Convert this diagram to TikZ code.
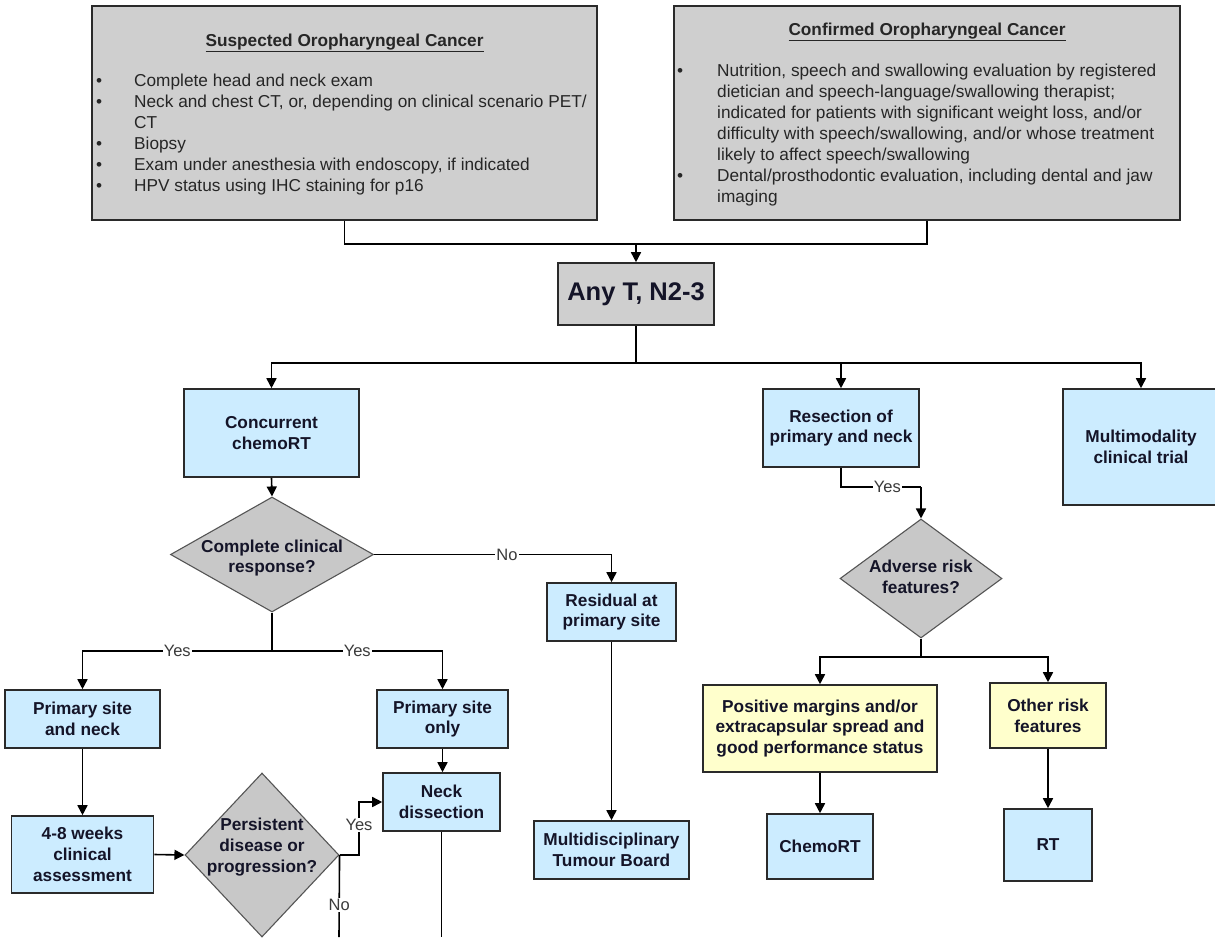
\documentclass[tikz,border=0pt]{standalone}
\usepackage{fontspec}
\setmainfont{Liberation Sans}
\usetikzlibrary{shapes.geometric,arrows.meta}
\definecolor{grayc}{HTML}{CFCFCF}
\definecolor{bluec}{HTML}{CCECFF}
\definecolor{yellowc}{HTML}{FFFFCC}
\definecolor{bordc}{HTML}{2A2A2A}
\definecolor{txtc}{HTML}{141428}
\definecolor{bodyc}{HTML}{262626}
\definecolor{diafill}{HTML}{C8C8C8}
\definecolor{diabord}{HTML}{555555}
\definecolor{labc}{HTML}{3A3A3A}
\tikzset{
  box/.style={draw=bordc, line width=1.6pt, inner sep=0pt, align=center,
    font=\bfseries\fontsize{17.25}{20.7}\selectfont, text=txtc},
  gbox/.style={box, fill=grayc},
  bbox/.style={box, fill=bluec},
  ybox/.style={box, fill=yellowc},
  dia/.style={diamond, draw=diabord, fill=diafill, line width=1.1pt, inner sep=0pt},
  dtext/.style={align=center, inner sep=0pt, text=txtc,
    font=\bfseries\fontsize{17.25}{20.7}\selectfont},
  arr/.style={-{Triangle[length=10pt,width=10pt]}, line width=1.6pt, draw=black},
  ln/.style={line width=1.6pt, draw=black},
  yn/.style={fill=white, inner sep=1.2pt, text=labc,
    font=\fontsize{16.5}{18}\selectfont},
  ttl/.style={anchor=base, inner sep=0pt, text=bodyc,
    font=\bfseries\fontsize{17.25}{21}\selectfont},
  lst/.style={anchor=base west, inner sep=0pt, text=bodyc,
    font=\fontsize{17.25}{21}\selectfont}
}
\begin{document}
\begin{tikzpicture}[x=1pt,y=-1pt]
\useasboundingbox (0,0) rectangle (1215,937);
\fill[white] (0,0) rectangle (1215,937);

% top boxes
\node[gbox, minimum width=505pt, minimum height=214pt] (sus) at (344.5,113) {};
\node[gbox, minimum width=506pt, minimum height=214pt] (conf) at (927,113) {};
\node[ttl] (sust) at (344.5,46) {\underline{Suspected Oropharyngeal Cancer}};
\node[ttl] (conft) at (927,35) {\underline{Confirmed Oropharyngeal Cancer}};
\node[lst] (susl) at (96,86) {\begin{tabular}[t]{@{}p{38pt}@{}l@{}}
\textbullet & Complete head and neck exam\\
\textbullet & Neck and chest CT, or, depending on clinical scenario PET/\\
 & CT\\
\textbullet & Biopsy\\
\textbullet & Exam under anesthesia with endoscopy, if indicated\\
\textbullet & HPV status using IHC staining for p16
\end{tabular}};
\node[lst] (confl) at (677,76) {\begin{tabular}[t]{@{}p{40pt}@{}l@{}}
\textbullet & Nutrition, speech and swallowing evaluation by registered\\
 & dietician and speech-language/swallowing therapist;\\
 & indicated for patients with significant weight loss, and/or\\
 & difficulty with speech/swallowing, and/or whose treatment\\
 & likely to affect speech/swallowing\\
\textbullet & Dental/prosthodontic evaluation, including dental and jaw\\
 & imaging
\end{tabular}};

% main nodes
\node[gbox, minimum width=156pt, minimum height=62pt,
  font=\bfseries\fontsize{25.5}{30}\selectfont] (anyt) at (636,294) {Any T, N2-3};
\node[bbox, minimum width=175pt, minimum height=88pt] (conc) at (271.5,433) {Concurrent\\chemoRT};
\node[bbox, minimum width=156pt, minimum height=78pt] (res) at (841,428) {Resection of\\primary and neck};
\node[bbox, minimum width=156pt, minimum height=116pt] (multi) at (1141,447) {Multimodality\\clinical trial};

\node[dia, minimum width=203pt, minimum height=115pt] (q1) at (272,554.5) {};
\node[dtext] (q1t) at (272,558) {Complete clinical\\response?};
\node[bbox, minimum width=129pt, minimum height=58pt] (resid) at (611.5,612) {Residual at\\primary site};
\node[bbox, minimum width=155pt, minimum height=58pt] (mdt) at (611.5,850) {Multidisciplinary\\Tumour Board};

\node[bbox, minimum width=155pt, minimum height=58pt] (psn) at (82.5,719) {Primary site\\and neck};
\node[bbox, minimum width=131pt, minimum height=58pt] (pso) at (442.5,719) {Primary site\\only};
\node[bbox, minimum width=117pt, minimum height=58pt] (nd) at (441.5,802) {Neck\\dissection};
\node[bbox, minimum width=142pt, minimum height=77pt] (w48) at (82.5,854.5) {4-8 weeks\\clinical\\assessment};
\node[dia, minimum width=154pt, minimum height=164pt] (q2) at (262,855) {};
\node[dtext] (q2t) at (262,847) {Persistent\\disease or\\progression?};

\node[dia, minimum width=162pt, minimum height=119pt] (q3) at (921,578.5) {};
\node[dtext] (q3t) at (921,577) {Adverse risk\\features?};
\node[ybox, minimum width=234pt, minimum height=87pt] (posm) at (820,728.5) {Positive margins and/or\\extracapsular spread and\\good performance status};
\node[ybox, minimum width=116pt, minimum height=65pt] (oth) at (1048,715.5) {Other risk\\features};
\node[bbox, minimum width=106pt, minimum height=65pt] (chemo) at (820,846.5) {ChemoRT};
\node[bbox, minimum width=88pt, minimum height=72pt] (rt) at (1048,845) {RT};

% junction coordinates
\coordinate (j1) at (636,244);
\coordinate (j2) at (636,363);
\coordinate (j3) at (272,651);
\coordinate (k1) at (359,855);
\coordinate (k2) at (339,937);
\coordinate (k3) at (441.5,937);
\coordinate (k4) at (921,487);
\coordinate (k5) at (921,657);

% connectors
\draw[ln] (sus.south) |- (j1) -| (conf.south);
\draw[arr] (j1) -- (anyt.north);
\draw[ln] (anyt.south) -- (j2);
\draw[arr] (j2) -| (conc.north);
\draw[arr] (j2) -| (res.north);
\draw[arr] (j2) -| (multi.north);
\draw[arr] (conc.south) -- (q1.north);
\draw[arr] (q1.east) -| node[yn, pos=0.28] {No} (resid.north);
\draw[ln] (q1.south) -- (j3);
\draw[arr] (j3) -| node[yn, pos=0.25] {Yes} (psn.north);
\draw[arr] (j3) -| node[yn, pos=0.25] {Yes} (pso.north);
\draw[arr] (psn.south) -- (w48.north);
\draw[arr] (pso.south) -- (pso.south |- nd.north);
\draw[arr] (w48.east) -- (q2.west);
\draw[arr] (q2.east) -- (k1) |- node[yn, pos=0.28] {Yes} (nd.west);
\draw[ln] (q2.east) -- node[yn, pos=0.61] {No} (k2);
\draw[ln] (nd.south) -- (k3);
\draw[arr] (resid.south) -- (mdt.north);
\draw[ln] (res.south) |- node[yn, pos=0.79] {Yes} (k4);
\draw[arr] (k4) -- (q3.north);
\draw[ln] (q3.south) -- (k5);
\draw[arr] (k5) -| (posm.north);
\draw[arr] (k5) -| (oth.north);
\draw[arr] (posm.south) -- (chemo.north);
\draw[arr] (oth.south) -- (rt.north);
\end{tikzpicture}
\end{document}
